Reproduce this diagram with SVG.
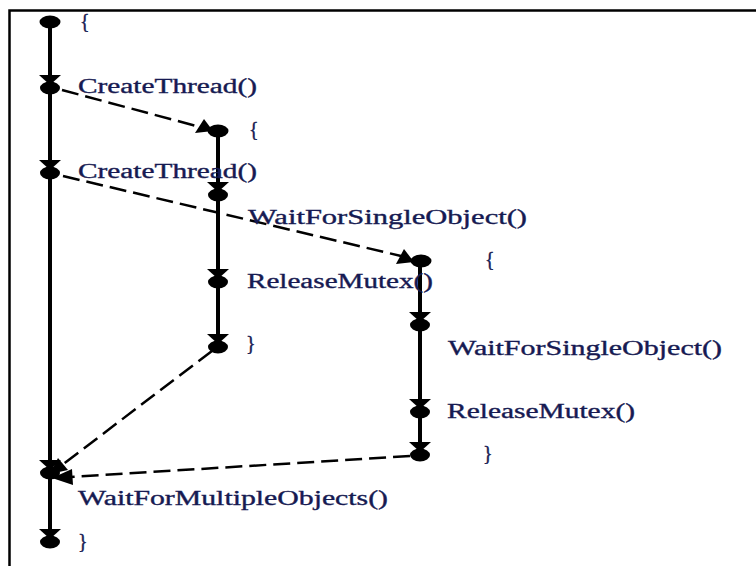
<svg xmlns="http://www.w3.org/2000/svg" xmlns:xlink="http://www.w3.org/1999/xlink" width="756" height="566" viewBox="0 0 756 566">
<style>
.frame{stroke:#000;stroke-width:2.5;fill:none}
.thread{stroke:#000;stroke-width:4;fill:none}
.dash{stroke:#000;stroke-width:2.5;fill:none;stroke-dasharray:17 7}
.lbl{font-family:"Liberation Serif","Times New Roman",serif;font-size:20px;fill:#161a52;stroke:#161a52;stroke-width:0.35}
.blk{fill:#000}
</style>
<defs>
<g id="dot" class="blk"><ellipse cx="0" cy="0" rx="10.5" ry="6.5"/></g>
<g id="evt" class="blk"><polygon points="-11,-13 11,-13 0,-3"/><ellipse cx="0" cy="0" rx="10" ry="6.5"/></g>
</defs>
<rect width="756" height="566" fill="#fff"/>
<path class="frame" d="M9.5,566 V10.5 H756"/>

<g id="connectors">
<line class="thread" x1="50" y1="22" x2="50" y2="542"/>
<line class="thread" x1="218" y1="131" x2="218" y2="347"/>
<line class="thread" x1="420" y1="261" x2="420" y2="455"/>
<line class="dash" x1="62" y1="90" x2="200" y2="127"/>
<line class="dash" x1="63" y1="176" x2="401" y2="256"/>
<line class="dash" x1="212" y1="351" x2="62" y2="465"/>
<line class="dash" x1="410" y1="456" x2="70" y2="477"/>
<polygon class="blk" points="195,133 204,119 213,131"/>
<polygon class="blk" points="396,264 404,249 414,262"/>
<polygon class="blk" points="50,474 68,470 58,458"/>
<polygon class="blk" points="52,478 73,485 72,469"/>
</g>

<g id="main-start"><use xlink:href="#dot" x="50" y="22"/><text class="lbl" x="80" y="28">{</text></g>
<g id="main-create1"><use xlink:href="#evt" x="50" y="88"/><text class="lbl" x="78" y="93" textLength="179" lengthAdjust="spacingAndGlyphs">CreateThread()</text></g>
<g id="main-create2"><use xlink:href="#evt" x="50" y="173"/><text class="lbl" x="78" y="178" textLength="179" lengthAdjust="spacingAndGlyphs">CreateThread()</text></g>
<g id="main-wait"><use xlink:href="#evt" x="50" y="473"/><text class="lbl" x="78" y="505" textLength="310" lengthAdjust="spacingAndGlyphs">WaitForMultipleObjects()</text></g>
<g id="main-end"><use xlink:href="#evt" x="50" y="542"/><text class="lbl" x="78" y="548">}</text></g>

<g id="t1-start"><use xlink:href="#dot" x="218" y="131"/><text class="lbl" x="249" y="136">{</text></g>
<g id="t1-wait"><use xlink:href="#evt" x="218" y="195"/><text class="lbl" x="248" y="224" textLength="279" lengthAdjust="spacingAndGlyphs">WaitForSingleObject()</text></g>
<g id="t1-release"><use xlink:href="#evt" x="218" y="282"/><text class="lbl" x="247" y="288" textLength="186" lengthAdjust="spacingAndGlyphs">ReleaseMutex()</text></g>
<g id="t1-end"><use xlink:href="#evt" x="218" y="347"/><text class="lbl" x="246" y="350">}</text></g>

<g id="t2-start"><use xlink:href="#dot" x="421" y="261"/><text class="lbl" x="485" y="266">{</text></g>
<g id="t2-wait"><use xlink:href="#evt" x="420" y="325"/><text class="lbl" x="448" y="355" textLength="274" lengthAdjust="spacingAndGlyphs">WaitForSingleObject()</text></g>
<g id="t2-release"><use xlink:href="#evt" x="420" y="412"/><text class="lbl" x="447" y="418" textLength="188" lengthAdjust="spacingAndGlyphs">ReleaseMutex()</text></g>
<g id="t2-end"><use xlink:href="#evt" x="420" y="455"/><text class="lbl" x="483" y="460">}</text></g>
</svg>
